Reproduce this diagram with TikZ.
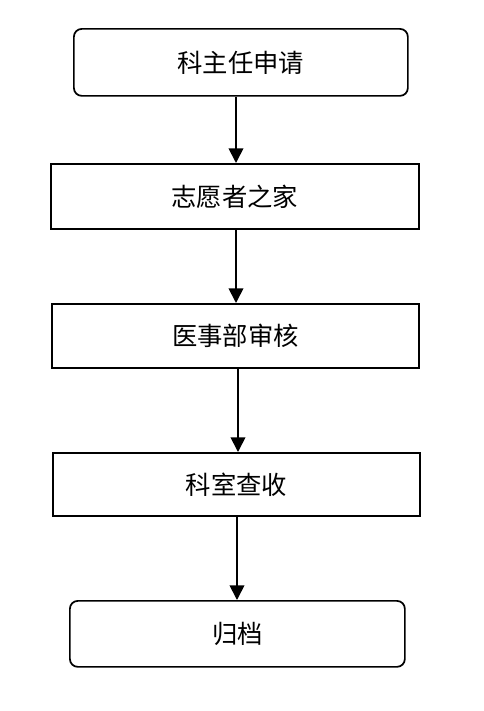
\documentclass[tikz,border=0pt]{standalone}
\usepackage{fontspec}
\newfontfamily\cjk{Noto Sans CJK SC}
\usetikzlibrary{arrows.meta,positioning}
\definecolor{flink}{HTML}{000000}
\tikzset{
  fl text/.style={font=\cjk\fontsize{19}{21}\selectfont, text=flink},
  fl box/.style={draw=flink, line width=1.3pt, fill=white, anchor=north west,
    align=center, inner sep=0pt},
  fl round/.style={fl box, rounded corners=6pt},
  fl arrow/.style={-{Triangle[length=11pt,width=11pt]}, line width=1.3pt,
    draw=flink, line cap=butt}
}

\begin{document}
\begin{tikzpicture}[fl text, x=0.75pt, y=-0.75pt]
  \useasboundingbox (0,0) rectangle (484,711);
  \node[fl round, minimum width=250.5pt, minimum height=50.25pt] (apply) at (73,28) {科主任申请};
  \node[fl box, minimum width=276pt, minimum height=48.75pt] (home) at (50,163) {志愿者之家};
  \node[fl box, minimum width=275.25pt, minimum height=48pt] (audit) at (51,303) {医事部审核};
  \node[fl box, minimum width=275.25pt, minimum height=47.25pt] (receive) at (52,452) {科室查收};
  \node[fl round, minimum width=251.25pt, minimum height=49.5pt] (archive) at (69,600) {归档};
  \draw[fl arrow] (apply.south -| 236,0) -- (home.north -| 236,0);
  \draw[fl arrow] (home.south -| 236,0) -- (audit.north -| 236,0);
  \draw[fl arrow] (audit.south -| 238,0) -- (receive.north -| 238,0);
  \draw[fl arrow] (receive.south -| 237,0) -- (archive.north -| 237,0);
\end{tikzpicture}
\end{document}
